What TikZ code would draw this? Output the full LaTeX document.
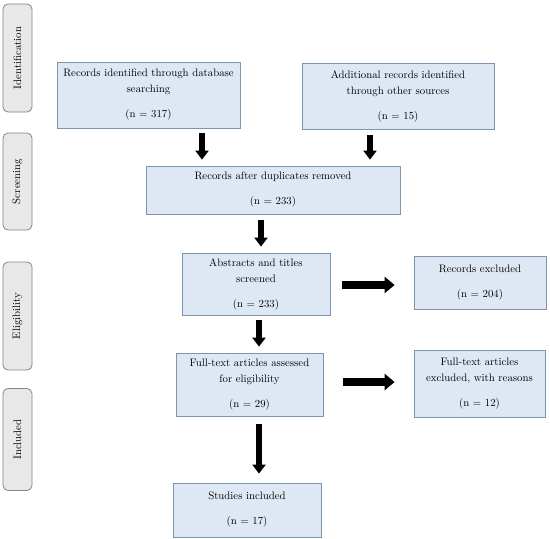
\documentclass[tikz,border=0pt]{standalone}
\usepackage{xcolor}
\usetikzlibrary{arrows.meta, positioning}
\definecolor{boxfill}{HTML}{DEE8F4}
\definecolor{boxline}{HTML}{7F93AB}
\definecolor{phasefill}{HTML}{E8E8E8}
\definecolor{phaseline}{HTML}{7A8597}
\tikzset{
    box/.style={draw=boxline, fill=boxfill, line width=0.8pt, align=center,
        inner sep=2pt, font=\fontsize{10.8}{16}\selectfont},
    phase/.style={draw=phaseline, fill=phasefill, line width=0.8pt,
        rounded corners=5pt, rotate=90, minimum height=29pt,
        font=\fontsize{10.8}{12}\selectfont},
    fat/.style={line width=6pt, -{Triangle[width=13pt,length=9pt]}},
    fatter/.style={line width=7.5pt, -{Triangle[width=16pt,length=10pt]}}
}

\begin{document}
\begin{tikzpicture}[x=1pt, y=-1pt]
\useasboundingbox (0,0) rectangle (550,539);

% phases on the left
\node[phase, minimum width=108pt] (pident) at (17.5,58)  {Identification};
\node[phase, minimum width=97pt]  (pscreen) at (17.5,181.5) {Screening};
\node[phase, minimum width=108pt] (pelig)  at (17.5,316) {Eligibility};
\node[phase, minimum width=102pt] (pincl)  at (17.5,439.5) {Included};

% boxes
\node[box, minimum width=183pt, minimum height=66pt] (ident) at (148.5,95)
    {Records identified through database\\ searching\\[9pt] (n = 317)};
\node[box, minimum width=192pt, minimum height=66pt] (other) at (398,96)
    {Additional records identified\\ through other sources\\[9pt] (n = 15)};
\node[box, minimum width=254pt, minimum height=48pt] (dup) at (273,190)
    {Records after duplicates removed\\[9pt] (n = 233)};
\node[box, minimum width=148pt, minimum height=62pt] (screen) at (256,284)
    {Abstracts and titles\\ screened\\[9pt] (n = 233)};
\node[box, minimum width=132pt, minimum height=53pt] (excl) at (480,282.5)
    {Records excluded\\[9pt] (n = 204)};
\node[box, minimum width=147pt, minimum height=63pt] (full) at (249.5,384.5)
    {Full-text articles assessed\\ for eligibility\\[9pt] (n = 29)};
\node[box, minimum width=131pt, minimum height=67pt] (fullexcl) at (479.5,383.5)
    {Full-text articles\\ excluded, with reasons\\[9pt] (n = 12)};
\node[box, minimum width=148pt, minimum height=54pt] (incl) at (247,510)
    {Studies included\\[9pt] (n = 17)};

% down arrows
\draw[fat, shorten <=5pt, shorten >=6pt] (ident.south -| 202,0) -- (dup.north -| 202,0);
\draw[fat, shorten <=6pt, shorten >=6pt] (other.south -| 370,0) -- (dup.north -| 370,0);
\draw[fat, shorten <=6pt, shorten >=6pt] (dup.south -| 261,0) -- (screen.north -| 261,0);
\draw[fat, shorten <=5pt, shorten >=6pt] (screen.south -| 259,0) -- (full.north -| 259,0);
\draw[fat, shorten <=8pt, shorten >=9pt] (full.south -| 259,0) -- (incl.north -| 259,0);
% right arrows
\draw[fatter, shorten <=12pt, shorten >=19pt] (screen.east |- 0,285) -- (excl.west |- 0,285);
\draw[fatter, shorten <=20pt, shorten >=19pt] (full.east |- 0,382) -- (fullexcl.west |- 0,382);
\end{tikzpicture}
\end{document}
